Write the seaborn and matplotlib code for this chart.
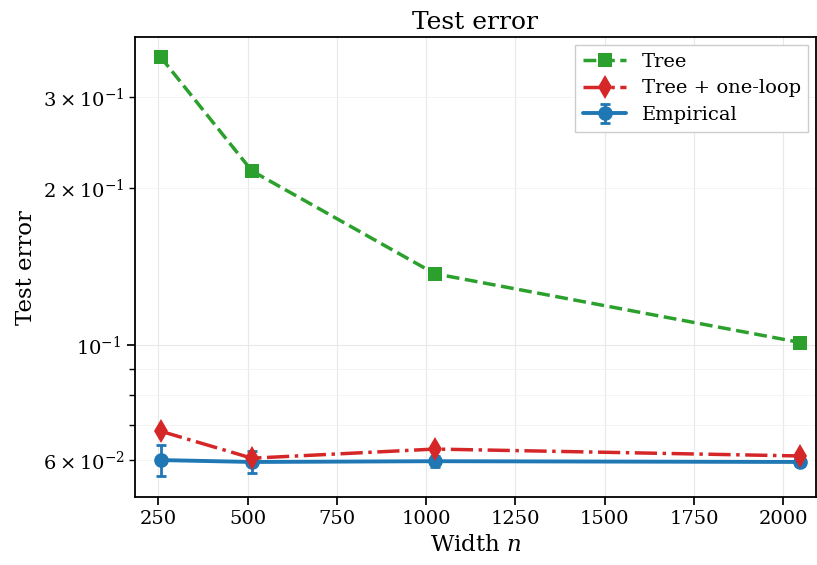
import numpy as np
import pandas as pd
import matplotlib
matplotlib.use("Agg")
import matplotlib.pyplot as plt
import seaborn as sns

# widths and measured errors
widths = [256, 512, 1024, 2048]
tree_err = [0.358, 0.216, 0.137, 0.101]
one_loop_err = [0.0682, 0.0605, 0.0630, 0.0611]
emp_err = [0.0600, 0.0595, 0.0597, 0.0595]
emp_std = [0.0041, 0.0029, 0.0015, 0.0011]

sns.set_theme(style="ticks")
plt.rcParams['font.family'] = ['DejaVu Serif']
plt.rcParams['mathtext.fontset'] = 'dejavuserif'
plt.rcParams['text.color'] = 'black'
plt.rcParams['axes.labelcolor'] = 'black'
plt.rcParams['xtick.color'] = 'black'
plt.rcParams['ytick.color'] = 'black'

df = pd.DataFrame({'width': widths, 'tree': tree_err, 'one_loop': one_loop_err})

fig = plt.figure(figsize=(8.17, 5.65), dpi=100)
ax = fig.add_axes([0.165, 0.12, 0.834, 0.8145])

ax.errorbar(widths, emp_err, yerr=emp_std, color='#1f77b4', marker='o', markersize=9.5,
            linewidth=2.8, capsize=3.5, elinewidth=2, capthick=2, label='Empirical', zorder=3)
sns.lineplot(data=df, x='width', y='tree', ax=ax, color='#2ca02c', marker='s', markersize=9.5,
             markeredgewidth=0, linewidth=2.5, linestyle='--', label='Tree', zorder=4)
sns.lineplot(data=df, x='width', y='one_loop', ax=ax, color='#d62728', marker='d', markersize=12,
             markeredgewidth=0, linewidth=2.5, linestyle='-.', label='Tree + one-loop', zorder=4)

ax.set_yscale('log')
ax.set_xlim(184, 2092)
ax.set_ylim(0.0509, 0.391)
ax.grid(True, which='major', color='#e8e8e8', linewidth=0.8)
ax.grid(True, which='minor', axis='y', color='#f2f2f2', linewidth=0.6)
for s in ax.spines.values():
    s.set_linewidth(1.3)
    s.set_color('black')

ax.tick_params(axis='both', which='both', labelsize=14, direction='out')
ax.set_title('Test error', fontsize=18)
ax.set_xlabel('Width $n$', fontsize=16.5)
ax.set_ylabel('Test error', fontsize=16.5)

handles, labels = ax.get_legend_handles_labels()
order = [labels.index(l) for l in ['Tree', 'Tree + one-loop', 'Empirical']]
ax.legend([handles[i] for i in order], [labels[i] for i in order], loc='upper right',
          fontsize=14, frameon=True, fancybox=False, edgecolor='#cccccc', framealpha=1,
          borderaxespad=0.4, handletextpad=0.8, labelspacing=0.45, handlelength=2.2)

fig.savefig('out.png', dpi=100)
